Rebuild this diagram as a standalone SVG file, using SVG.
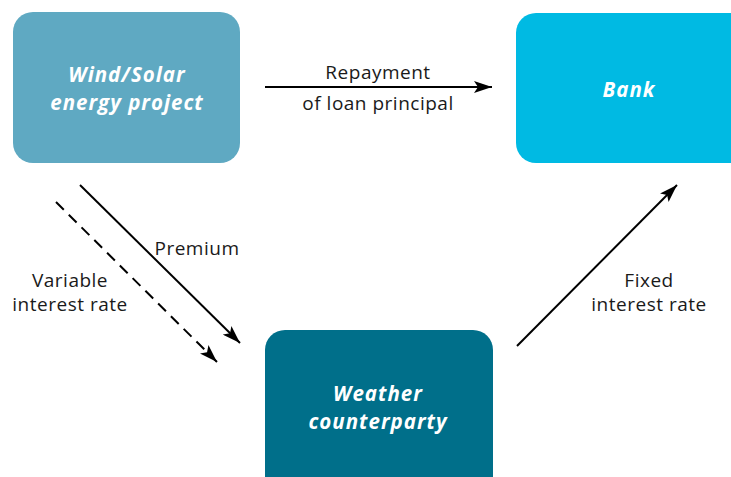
<svg xmlns="http://www.w3.org/2000/svg" width="731" height="477" viewBox="0 0 731 477">
<defs>
<style>
.node text{font-family:"Open Sans","Noto Sans",sans-serif;font-weight:bold;font-style:italic;font-size:20.5px;letter-spacing:1px;fill:#fff;text-anchor:middle}
.lbl{font-family:"Open Sans","Noto Sans",sans-serif;font-size:19px;letter-spacing:0.5px;fill:#1a1a1a;text-anchor:middle}
.edge{stroke:#000;stroke-width:2;fill:none}
</style>
<marker id="ah" viewBox="0 0 18 12" refX="18" refY="6" markerWidth="18" markerHeight="12" markerUnits="userSpaceOnUse" orient="auto">
<path d="M0,0 L18,6 L0,12 L4,6 Z" fill="#000"/>
</marker>
</defs>
<rect width="731" height="477" fill="#fff"/>
<g id="wind-solar" class="node">
<rect x="13" y="12" width="227" height="151" rx="20" fill="#5FA9C2"/>
<text x="127" y="82">Wind/Solar</text>
<text x="127" y="110">energy project</text>
</g>
<g id="bank" class="node">
<rect x="516" y="13" width="240" height="150" rx="20" fill="#00BAE3"/>
<text x="629" y="97">Bank</text>
</g>
<g id="weather" class="node">
<rect x="265" y="330" width="228" height="170" rx="20" fill="#006F8A"/>
<text x="378" y="401">Weather</text>
<text x="378" y="429">counterparty</text>
</g>
<g id="connectors">
<line class="edge" x1="265" y1="87" x2="492" y2="87" marker-end="url(#ah)"/>
<line class="edge" x1="80" y1="185" x2="240" y2="343" marker-end="url(#ah)"/>
<line class="edge" x1="56" y1="202" x2="217" y2="362" stroke-dasharray="11,7" marker-end="url(#ah)"/>
<line class="edge" x1="517" y1="346" x2="677" y2="185" marker-end="url(#ah)"/>
<text class="lbl" x="378" y="79">Repayment</text>
<text class="lbl" x="378" y="110">of loan principal</text>
<text class="lbl" x="197" y="255">Premium</text>
<text class="lbl" x="70" y="287">Variable</text>
<text class="lbl" x="70" y="311">interest rate</text>
<text class="lbl" x="649" y="287">Fixed</text>
<text class="lbl" x="649" y="311">interest rate</text>
</g>
</svg>
